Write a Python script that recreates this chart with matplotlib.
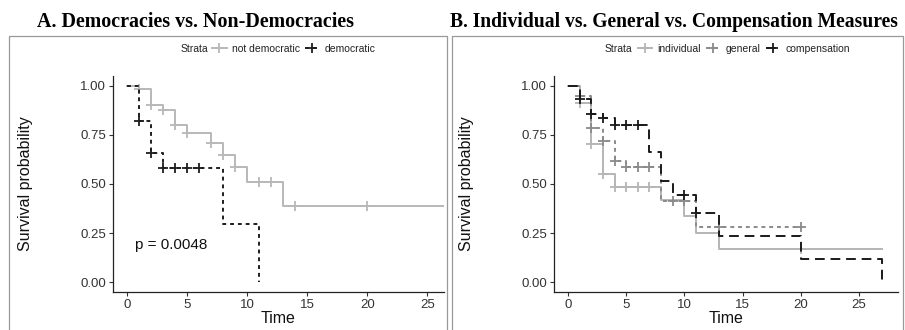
import matplotlib.pyplot as plt
import numpy as np
from matplotlib.lines import Line2D
from matplotlib.patches import Rectangle

plt.rcParams['font.family'] = ['Liberation Sans', 'DejaVu Sans']

# ---- Panel A data: democracies vs non-democracies ----
notdem_t = [0, 1, 2, 3, 4, 5, 7, 8, 9, 10, 13, 27]
notdem_s = [1.0, 0.983, 0.90, 0.875, 0.80, 0.76, 0.71, 0.65, 0.585, 0.512, 0.386, 0.386]
notdem_cens = [1, 2, 3, 4, 5, 7, 8, 9, 11, 12, 14, 20]

dem_t = [0, 1, 2, 3, 8, 11]
dem_s = [1.0, 0.82, 0.658, 0.582, 0.294, 0.0]
dem_cens = [1, 2, 3, 4, 5, 6]

p_text = 'p = 0.0048'

# ---- Panel B data: individual vs general vs compensation ----
indiv_t = [0, 1, 2, 3, 4, 8, 10, 11, 13, 27]
indiv_s = [1.0, 0.912, 0.705, 0.551, 0.483, 0.42, 0.336, 0.251, 0.168, 0.168]
indiv_cens = [1, 2, 3, 4, 5, 6, 7, 20]

gen_t = [0, 1, 2, 3, 4, 5, 8, 11, 20]
gen_s = [1.0, 0.946, 0.785, 0.717, 0.619, 0.585, 0.415, 0.28, 0.28]
gen_cens = [1, 2, 3, 4, 5, 6, 7, 9, 10, 13, 20]

comp_t = [0, 1, 2, 3, 4, 7, 8, 9, 11, 13, 20, 27]
comp_s = [1.0, 0.934, 0.856, 0.836, 0.80, 0.663, 0.517, 0.445, 0.353, 0.237, 0.119, 0.0]
comp_cens = [1, 2, 3, 4, 5, 6, 10, 11]

yticks = [0, 0.25, 0.5, 0.75, 1.0]
ytick_labels = ['0.00', '0.25', '0.50', '0.75', '1.00']
xticks = [0, 5, 10, 15, 20, 25]


def km(ax, t, s, cens, color, dashes=None):
    t = np.array(t, float)
    s = np.array(s, float)
    line, = ax.step(t, s, where='post', color=color, lw=1.4)
    if dashes is not None:
        line.set_dashes(dashes)
    idx = np.searchsorted(t, cens, side='right') - 1
    ax.plot(cens, s[idx], ls='none', marker='+', ms=7, mew=1.3, color=color)


def style(ax, xmax):
    for sp in ['top', 'right']:
        ax.spines[sp].set_visible(False)
    for sp in ['left', 'bottom']:
        ax.spines[sp].set_color('#222222')
        ax.spines[sp].set_linewidth(0.9)
    ax.set_ylim(-0.05, 1.05)
    ax.set_xlim(-1.2, xmax)
    ax.set_yticks(yticks, ytick_labels)
    ax.set_xticks(xticks)
    ax.tick_params(labelsize=9.5, colors='#333333', length=3, width=0.8, pad=2)
    ax.set_xlabel('Time', fontsize=11.5, labelpad=0, color='#111111')
    ax.set_ylabel('Survival probability', fontsize=11.5, labelpad=34, color='#111111')


fig = plt.figure(figsize=(9.05, 3.3), dpi=100)

# panel frames
fig.patches.append(Rectangle((9 / 905, -0.01), 438 / 905, 1 - 36 / 330 + 0.01,
                             transform=fig.transFigure, fill=False,
                             edgecolor='#999999', lw=0.9))
fig.patches.append(Rectangle((452 / 905, -0.01), 451 / 905, 1 - 36 / 330 + 0.01,
                             transform=fig.transFigure, fill=False,
                             edgecolor='#999999', lw=0.9))

axA = fig.add_axes([113 / 905, 38 / 330, 331 / 905, 216 / 330])
axB = fig.add_axes([554 / 905, 38 / 330, 344 / 905, 216 / 330])

# Panel A
km(axA, notdem_t, notdem_s, notdem_cens, '#b8b8b8')
km(axA, dem_t, dem_s, dem_cens, '#1e1e1e', dashes=(2, 2))
style(axA, 26.4)
axA.text(0.6, 0.19, p_text, fontsize=11, va='center', ha='left', color='#111111')

# Panel B
km(axB, indiv_t, indiv_s, indiv_cens, '#b5b5b5')
km(axB, gen_t, gen_s, gen_cens, '#8a8a8a', dashes=(2, 2))
km(axB, comp_t, comp_s, comp_cens, '#1a1a1a', dashes=(5, 3))
style(axB, 28.35)

# titles
fig.text(195 / 905, 1 - 22 / 330, 'A. Democracies vs. Non-Democracies',
         family='Liberation Serif', fontweight='bold', fontsize=14.4,
         ha='center', va='center')
fig.text(450 / 905, 1 - 22 / 330, 'B. Individual vs. General vs. Compensation Measures',
         family='Liberation Serif', fontweight='bold', fontsize=14.1,
         ha='left', va='center')


def strata_legend(ax, x_text, x_center, labels, colors, dashes):
    handles = []
    for lab, c, d in zip(labels, colors, dashes):
        h = Line2D([], [], color=c, lw=1.4, marker='+', ms=7, mew=1.3)
        if d is not None:
            h.set_dashes(d)
        handles.append(h)
    fig.text(x_text / 905, 1 - 49 / 330, 'Strata', fontsize=7.5, ha='right',
             va='center', color='#222222')
    ax.legend(handles, labels, loc='center', ncol=len(labels), frameon=False,
              fontsize=7.5, handlelength=1.4, handletextpad=0.5,
              columnspacing=0.5, bbox_to_anchor=(x_center / 905, 1 - 49 / 330),
              bbox_transform=fig.transFigure, borderpad=0, labelcolor='#222222')


strata_legend(axA, 208, 294, ['not democratic', 'democratic'],
              ['#b8b8b8', '#1e1e1e'], [None, (2, 2)])
strata_legend(axB, 632, 744, ['individual', 'general', 'compensation'],
              ['#b5b5b5', '#8a8a8a', '#1a1a1a'], [None, (2, 2), (5, 3)])

fig.savefig('out.png', dpi=100)
